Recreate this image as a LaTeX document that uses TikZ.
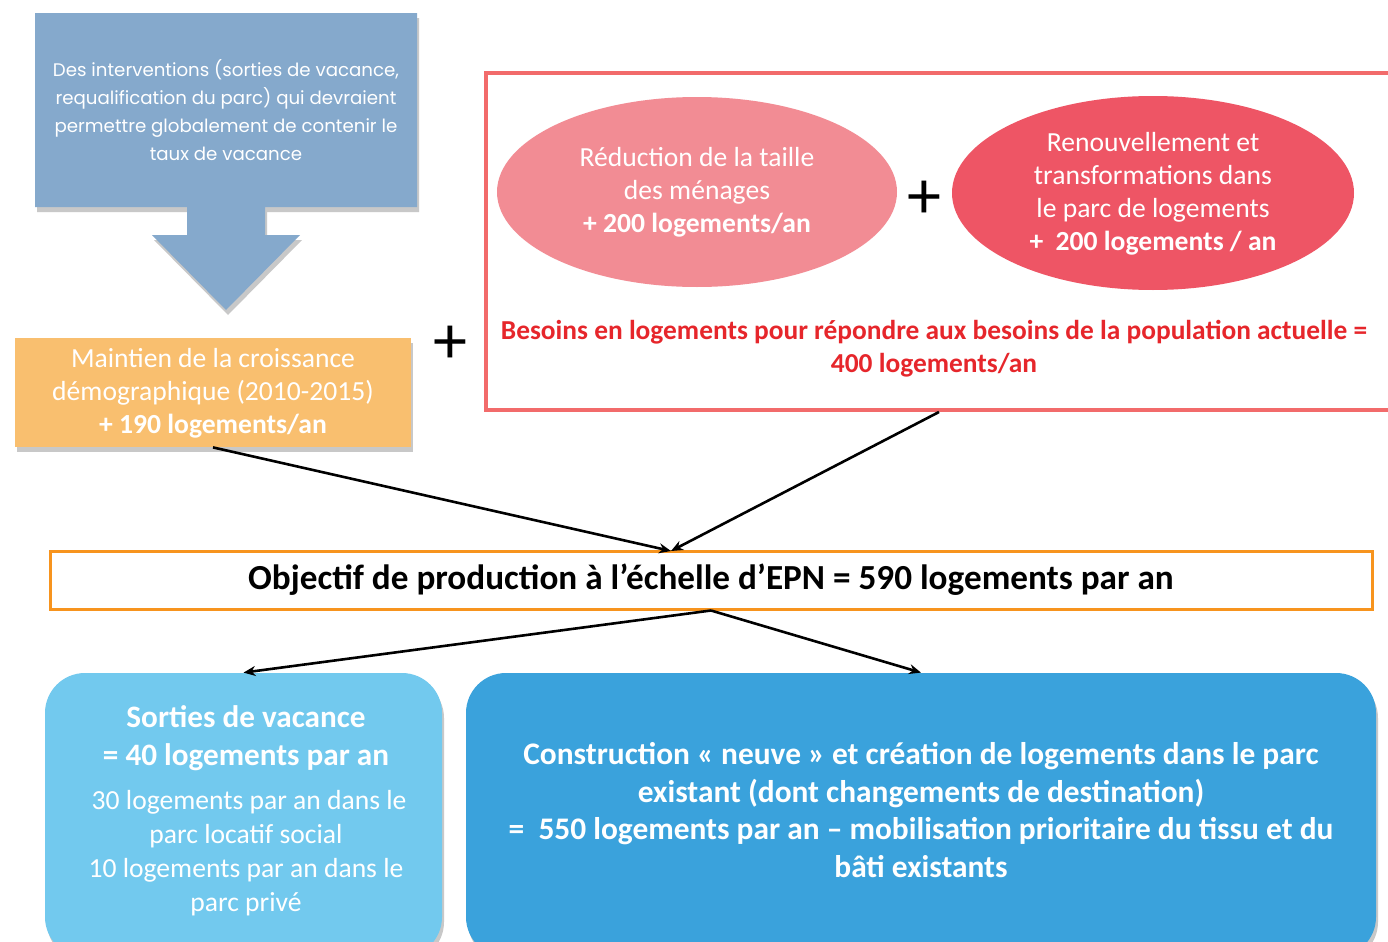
\documentclass[tikz,border=0pt]{standalone}
\usepackage{fontspec}
\setmainfont{Carlito}
\newfontfamily\gothic{Poppins}
\usetikzlibrary{shapes.geometric,shadows,arrows.meta}
\definecolor{topblue}{RGB}{133,169,204}
\definecolor{orfill}{RGB}{249,191,111}
\definecolor{redframe}{RGB}{242,107,107}
\definecolor{ellA}{RGB}{242,140,148}
\definecolor{ellB}{RGB}{238,85,101}
\definecolor{redtxt}{RGB}{230,38,43}
\definecolor{orframe}{RGB}{247,148,30}
\definecolor{lblue}{RGB}{114,201,238}
\definecolor{dblue}{RGB}{58,162,220}
\newcommand\svbig{\fontsize{15.6}{19}\selectfont\bfseries}
\tikzset{
  shad/.style={drop shadow={shadow xshift=1pt,shadow yshift=-2.5pt,opacity=0.3,fill=black!70}},
  wtxt/.style={text=white,align=center,inner sep=0pt},
  conn/.style={line width=1.3pt,-{Stealth[length=6pt,width=5pt]}},
  plus/.style={font=\fontsize{34}{34}\selectfont,inner sep=0pt}
}
\begin{document}
\begin{tikzpicture}[x=0.5pt,y=-0.5pt]
\clip (0,0) rectangle (1388,942);
\fill[white] (0,0) rectangle (1388,942);
% top blue callout
\path[fill=topblue,shad] (35,13) -- (417,13) -- (417,207) -- (265,207) -- (265,235) -- (300,235) -- (226,310) -- (152,235) -- (187,235) -- (187,207) -- (35,207) -- cycle;
\node[wtxt,font={\gothic\fontsize{9.1}{14}\selectfont}] (top) at (226,110) {Des interventions (sorties de vacance,\\requalification du parc) qui devraient\\permettre globalement de contenir le\\taux de vacance};
% orange box
\node[fill=orfill,shad,minimum width=198pt,minimum height=54.5pt,inner sep=0pt] (orange) at (213,392.5) {};
\node[wtxt,font={\fontsize{13.8}{16.5}\selectfont}] (orangetxt) at (213,393) {Maintien de la croissance\\démographique (2010-2015)\\\textbf{+ 190 logements/an}};
\node[plus] (plusA) at (450,345) {+};
% red frame
\node[draw=redframe,line width=2pt,fill=white,minimum width=453pt,minimum height=168.5pt,inner sep=0pt] (besoins) at (939,241.5) {};
\node[ellipse,fill=ellA,minimum width=200pt,minimum height=95pt,inner sep=0pt] (e1) at (697,192) {};
\node[wtxt,font={\fontsize{13.8}{16.5}\selectfont}] (e1txt) at (697,192) {Réduction de la taille\\des ménages\\\textbf{+ 200 logements/an}};
\node[plus] (plusB) at (924,200) {+};
\node[ellipse,fill=ellB,minimum width=201pt,minimum height=97pt,inner sep=0pt] (e2) at (1153,193) {};
\node[wtxt,font={\fontsize{13.8}{16.5}\selectfont}] (e2txt) at (1153,193.5) {Renouvellement et\\transformations dans\\le parc de logements\\\textbf{+\ \ 200 logements / an}};
\node[align=center,inner sep=0pt,text=redtxt,font={\bfseries\fontsize{13.7}{16.5}\selectfont}] (besoinstxt) at (934,348.5) {Besoins en logements pour répondre aux besoins de la population actuelle =\\400 logements/an};
% objective
\node[draw=orframe,line width=1.5pt,fill=white,minimum width=661pt,minimum height=29pt,inner sep=0pt,font={\bfseries\fontsize{17.6}{20}\selectfont}] (obj) at (711,580) {Objectif de production à l’échelle d’EPN = 590 logements par an};
% bottom boxes
\node[fill=lblue,rounded corners=20pt,shad,minimum width=198.5pt,minimum height=142pt,inner sep=0pt] (sv) at (243.5,815) {};
\node[wtxt,font={\fontsize{13.8}{17}\selectfont}] (svtxt) at (246,811) {\svbig Sorties de vacance\\[2pt]\svbig = 40 logements par an\\[5pt]\ 30 logements par an dans le\\parc locatif social\\10 logements par an dans le\\parc privé};
\node[fill=dblue,rounded corners=20pt,shad,minimum width=455pt,minimum height=142pt,inner sep=0pt] (cn) at (921,815) {};
\node[wtxt,font={\bfseries\fontsize{15.7}{18.75}\selectfont}] (cntxt) at (921,810) {Construction « neuve » et création de logements dans le parc\\existant (dont changements de destination)\\=\ \ 550 logements par an – mobilisation prioritaire du tissu et du\\bâti existants};
% connectors
\coordinate (objin) at (671,551);
\draw[conn] (orange.south) -- (objin);
\draw[conn] (besoins.south) -- (objin);
\draw[conn] (obj.south) -- (sv.north);
\draw[conn] (obj.south) -- (cn.north);
\end{tikzpicture}
\end{document}
